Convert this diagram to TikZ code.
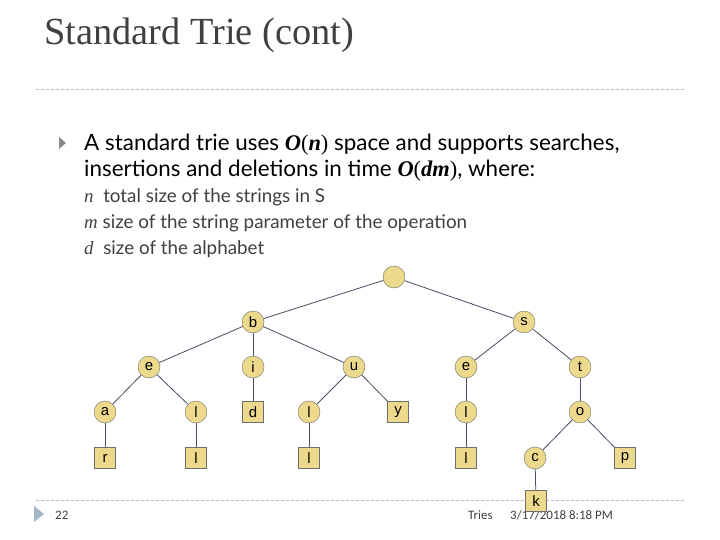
\documentclass[tikz,border=0pt]{standalone}
\usepackage{fontspec}
\setmainfont{Lato}
\newfontfamily\titlefont{Liberation Serif}
\newfontfamily\nodefont{Liberation Sans}
\newfontfamily\footfont{Carlito}
\usetikzlibrary{positioning}
\definecolor{triefill}{HTML}{ECD98B}
\definecolor{trieedge}{HTML}{4B4D63}
\definecolor{trieborder}{HTML}{6E6E6E}
\definecolor{slidegray}{HTML}{404040}
\definecolor{rulegray}{HTML}{BDBDBD}
\definecolor{bulletgray}{HTML}{8A8A8A}
\definecolor{bulletblue}{HTML}{A3B6CA}

\begin{document}
\begin{tikzpicture}[
    x=1bp,y=-1bp,
    inner/.style={circle,draw=trieborder,fill=triefill,minimum size=22bp,inner sep=0pt,
                  font=\nodefont\fontsize{15}{15}\selectfont},
    leaf/.style={rectangle,draw=trieborder,fill=triefill,minimum size=21bp,inner sep=0pt,
                 font=\nodefont\fontsize{15}{15}\selectfont},
    link/.style={trieedge,line width=.8bp},
    rule/.style={rulegray,line width=.8bp,dash pattern=on 3bp off 2bp},
    txt/.style={anchor=base west,inner sep=0pt}
  ]
    \useasboundingbox (0,0) rectangle (720,540);
    \fill[white] (0,0) rectangle (720,540);

    % title and rules
    \node[txt,text=slidegray,font=\titlefont\fontsize{38.5}{38.5}\selectfont] (title) at (44,45) {Standard Trie (cont)};
    \draw[rule] (36,89) -- (686,89);
    \draw[rule] (36,500) -- (686,500);

    % bullet text
    \fill[bulletgray] (59,137) -- (66,143) -- (59,149) -- cycle;
    \newcommand{\bm}[1]{{\titlefont\bfseries\itshape #1}}
    \node[txt,font=\fontsize{22.5}{22.5}\selectfont] (line1) at (84,151)
      {A standard trie uses \bm{O}{\titlefont(}\bm{n}{\titlefont)} space and supports searches,};
    \node[txt,font=\fontsize{22.5}{22.5}\selectfont] (line2) at (84,177)
      {insertions and deletions in time \bm{O}{\titlefont(}\bm{dm}{\titlefont)}, where:};
    \node[txt,text=slidegray,font=\fontsize{18.9}{18.9}\selectfont] (defn) at (84,203)
      {{\titlefont\itshape n}\ \ total size of the strings in S};
    \node[txt,text=slidegray,font=\fontsize{18.9}{18.9}\selectfont] (defm) at (84,229)
      {{\titlefont\itshape m} size of the string parameter of the operation};
    \node[txt,text=slidegray,font=\fontsize{18.9}{18.9}\selectfont] (defd) at (84,255)
      {{\titlefont\itshape d}\ \ size of the alphabet};

    % footer
    \fill[bulletblue] (34,506) -- (44,514) -- (34,522) -- cycle;
    \node[txt,text=slidegray,font=\footfont\fontsize{13}{13}\selectfont] (page) at (55,519) {22};
    \node[txt,text=slidegray,font=\footfont\fontsize{13}{13}\selectfont] (tries) at (468,519) {Tries};
    \node[txt,text=slidegray,font=\footfont\fontsize{13}{13}\selectfont] (date) at (510,519) {3/17/2018 8:18 PM};

    % trie nodes
    \node[inner] (root) at (394,277) {};
    \node[inner] (b) at (253,322) {b};
    \node[inner] (s) at (524,322) {s};
    \node[inner] (be) at (149,367) {e};
    \node[inner] (bi) at (253,367) {i};
    \node[inner] (bu) at (354,367) {u};
    \node[inner] (se) at (466,367) {e};
    \node[inner] (st) at (580,367) {t};
    \node[inner] (bea) at (105,412) {a};
    \node[inner] (bel) at (196,412) {l};
    \node[leaf]  (bid) at (253,412) {d};
    \node[inner] (bul) at (309,412) {l};
    \node[leaf]  (buy) at (398,412) {y};
    \node[inner] (sel) at (466,412) {l};
    \node[inner] (sto) at (580,412) {o};
    \node[leaf]  (bear) at (105,458) {r};
    \node[leaf]  (bell) at (196,458) {l};
    \node[leaf]  (bull) at (309,458) {l};
    \node[leaf]  (sell) at (466,458) {l};
    \node[inner] (stoc) at (535,458) {c};
    \node[leaf]  (stop) at (625,458) {p};
    \node[leaf]  (stock) at (536,501) {k};

    % trie edges
    \draw[link] (root) -- (b);
    \draw[link] (root) -- (s);
    \draw[link] (b) -- (be);
    \draw[link] (b) -- (bi);
    \draw[link] (b) -- (bu);
    \draw[link] (s) -- (se);
    \draw[link] (s) -- (st);
    \draw[link] (be) -- (bea);
    \draw[link] (be) -- (bel);
    \draw[link] (bi) -- (bid);
    \draw[link] (bu) -- (bul);
    \draw[link] (bu) -- (buy);
    \draw[link] (se) -- (sel);
    \draw[link] (st) -- (sto);
    \draw[link] (bea) -- (bear);
    \draw[link] (bel) -- (bell);
    \draw[link] (bul) -- (bull);
    \draw[link] (sel) -- (sell);
    \draw[link] (sto) -- (stoc);
    \draw[link] (sto) -- (stop);
    \draw[link] (stoc) -- (stock);
  \end{tikzpicture}
\end{document}
